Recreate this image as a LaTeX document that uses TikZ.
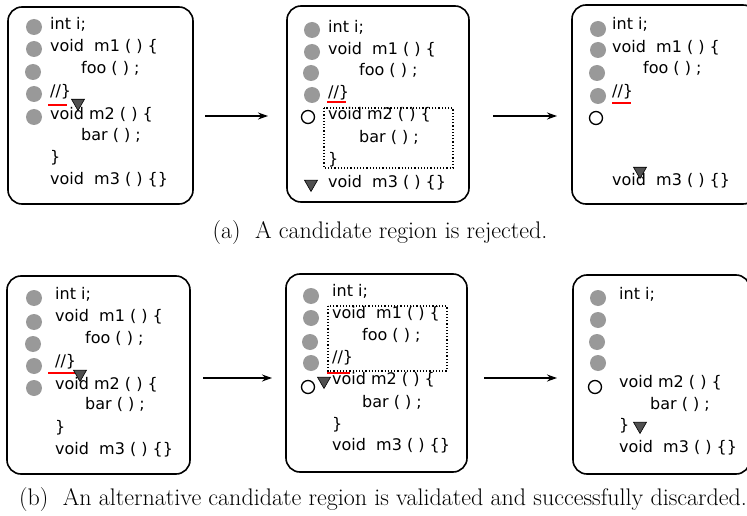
\documentclass[tikz,border=0pt]{standalone}
\usepackage{fontspec}
\newfontfamily\codefont{DejaVu Sans}
\usetikzlibrary{arrows.meta,shapes.geometric}
\definecolor{dotgray}{HTML}{999999}
\definecolor{tridark}{HTML}{505050}
\tikzset{
  panel/.style={draw=black, line width=1.6pt, rounded corners=14pt},
  code/.style={font=\codefont\fontsize{16}{19}\selectfont, anchor=mid west, inner sep=0pt},
  gdot/.style={circle, fill=dotgray, minimum size=16pt, inner sep=0pt},
  odot/.style={circle, draw=black, line width=1.3pt, minimum size=13pt, inner sep=0pt},
  tri/.style={regular polygon, regular polygon sides=3, shape border rotate=180, fill=tridark, draw=black, line width=0.6pt, minimum size=15pt, inner sep=0pt},
  redline/.style={draw=red, line width=1.8pt},
  dotbox/.style={draw=black, line width=1.2pt, dotted},
  flow/.style={-{Stealth[length=10pt,width=7pt]}, line width=1.3pt},
  capt/.style={font=\fontsize{24}{27}\selectfont\addfontfeatures{FakeStretch=1.1}, inner sep=0pt}
}
\begin{document}
\begin{tikzpicture}[x=1pt,y=-1pt]
\useasboundingbox (0,0) rectangle (747,516);
% ---------- row (a) ----------
% panel 1a
\draw[panel] (8,7) rectangle (193,204);
\node[gdot] (a1d1) at (34,27) {};
\node[gdot] (a1d2) at (34,49) {};
\node[gdot] (a1d3) at (33,72) {};
\node[gdot] (a1d4) at (34,94) {};
\node[gdot] (a1d5) at (34,117) {};
\node[code] (a1l1) at (50,27) {int i;};
\node[code] (a1l2) at (50,49) {void\ \ m1 ( ) \{};
\node[code] (a1l3) at (81,71) {foo ( ) ;};
\node[code] (a1l4) at (50,94) {//\}};
\node[code] (a1l5) at (50,117) {void m2 ( ) \{};
\node[code] (a1l6) at (81,138) {bar ( ) ;};
\node[code] (a1l7) at (50,160) {\}};
\node[code] (a1l8) at (50,182) {void\ \ m3 ( ) \{\}};
\draw[redline] (48,105) -- (67,105);
\node[tri] (a1t) at (78,103) {};
% panel 2a
\draw[panel] (287,6) rectangle (469,202);
\node[gdot] (a2d1) at (312,30) {};
\node[gdot] (a2d2) at (312,52) {};
\node[gdot] (a2d3) at (311,73) {};
\node[gdot] (a2d4) at (312,95) {};
\node[odot] (a2o) at (308,117) {};
\node[code] (a2l1) at (328,30) {int i;};
\node[code] (a2l2) at (328,52) {void\ \ m1 ( ) \{};
\node[code] (a2l3) at (359,73) {foo ( ) ;};
\node[code] (a2l4) at (328,95) {//\}};
\node[code] (a2l5) at (328,117) {void m2 ( ) \{};
\node[code] (a2l6) at (359,140) {bar ( ) ;};
\node[code] (a2l7) at (328,162) {\}};
\node[code] (a2l8) at (328,185) {void\ \ m3 ( ) \{\}};
\draw[dotbox] (324,108) rectangle (453,168);
\draw[redline] (327,102) -- (346,102);
\node[tri] (a2t) at (311,184) {};
% panel 3a
\draw[panel] (572,5) rectangle (757,204);
\node[gdot] (a3d1) at (598,29) {};
\node[gdot] (a3d2) at (598,50) {};
\node[gdot] (a3d3) at (597,73) {};
\node[gdot] (a3d4) at (598,96) {};
\node[odot] (a3o) at (596,118) {};
\node[code] (a3l1) at (612,27) {int i;};
\node[code] (a3l2) at (612,50) {void\ \ m1 ( ) \{};
\node[code] (a3l3) at (643,71) {foo ( ) ;};
\node[code] (a3l4) at (612,94) {//\}};
\node[code] (a3l8) at (612,183) {void\ \ m3 ( ) \{\}};
\draw[redline] (612,103) -- (631,103);
\node[tri] (a3t) at (640,171) {};
% arrows (a)
\coordinate (a12s) at (205,116);
\coordinate (a12e) at (268,116);
\coordinate (a23s) at (493,116);
\coordinate (a23e) at (557,116);
\draw[flow] (a12s) -- (a12e);
\draw[flow] (a23s) -- (a23e);
\node[capt] (capa) at (380,233) {(a)\ \ A candidate region is rejected.};
% ---------- row (b) ----------
% panel 1b
\draw[panel] (7,276) rectangle (190,474);
\node[gdot] (b1d1) at (34,298) {};
\node[gdot] (b1d2) at (34,322) {};
\node[gdot] (b1d3) at (33,344) {};
\node[gdot] (b1d4) at (34,366) {};
\node[gdot] (b1d5) at (34,388) {};
\node[code] (b1l1) at (55,297) {int i;};
\node[code] (b1l2) at (55,319) {void\ \ m1 ( ) \{};
\node[code] (b1l3) at (85,341) {foo ( ) ;};
\node[code] (b1l4) at (55,364) {//\}};
\node[code] (b1l5) at (55,387) {void m2 ( ) \{};
\node[code] (b1l6) at (85,407) {bar ( ) ;};
\node[code] (b1l7) at (55,430) {\}};
\node[code] (b1l8) at (55,452) {void\ \ m3 ( ) \{\}};
\draw[redline] (48,373) -- (75,373);
\node[tri] (b1t) at (80,374) {};
% panel 2b
\draw[panel] (286,274) rectangle (467,472);
\node[gdot] (b2d1) at (311,296) {};
\node[gdot] (b2d2) at (311,318) {};
\node[gdot] (b2d3) at (310,342) {};
\node[gdot] (b2d4) at (311,363) {};
\node[odot] (b2o) at (308,387) {};
\node[code] (b2l1) at (332,294) {int i;};
\node[code] (b2l2) at (332,316) {void\ \ m1 ( ) \{};
\node[code] (b2l3) at (362,338) {foo ( ) ;};
\node[code] (b2l4) at (332,360) {//\}};
\node[code] (b2l5) at (332,382) {void m2 ( ) \{};
\node[code] (b2l6) at (362,405) {bar ( ) ;};
\node[code] (b2l7) at (332,427) {\}};
\node[code] (b2l8) at (332,448) {void\ \ m3 ( ) \{\}};
\draw[dotbox] (328,306) rectangle (447,371);
\draw[redline] (327,373) -- (350,373);
\node[tri] (b2t) at (324,381) {};
% panel 3b
\draw[panel] (573,275) rectangle (750,474);
\node[gdot] (b3d1) at (598,298) {};
\node[gdot] (b3d2) at (598,320) {};
\node[gdot] (b3d3) at (597,342) {};
\node[gdot] (b3d4) at (598,363) {};
\node[odot] (b3o) at (595,387) {};
\node[code] (b3l1) at (619,297) {int i;};
\node[code] (b3l5) at (619,385) {void m2 ( ) \{};
\node[code] (b3l6) at (650,407) {bar ( ) ;};
\node[code] (b3l7) at (619,428) {\}};
\node[code] (b3l8) at (619,450) {void\ \ m3 ( ) \{\}};
\node[tri] (b3t) at (640,426) {};
% arrows (b)
\coordinate (b12s) at (203,378);
\coordinate (b12e) at (272,378);
\coordinate (b23s) at (484,378);
\coordinate (b23e) at (557,378);
\draw[flow] (b12s) -- (b12e);
\draw[flow] (b23s) -- (b23e);
\node[capt] (capb) at (383,500) {(b)\ \ An alternative candidate region is validated and successfully discarded.};
\end{tikzpicture}
\end{document}
